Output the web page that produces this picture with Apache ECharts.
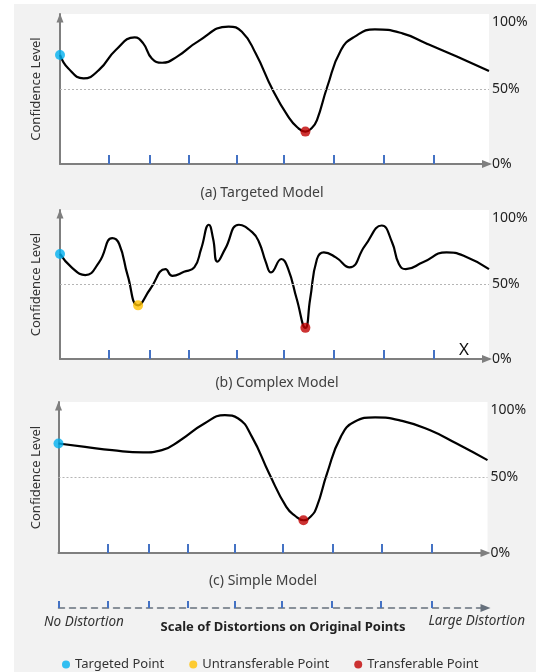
<!DOCTYPE html>
<html><head><meta charset="utf-8">
<script src="https://cdn.jsdelivr.net/npm/echarts@6/dist/echarts.min.js"></script>
<style>html,body{margin:0;padding:0;background:#fff}#c{width:536px;height:672px}</style>
</head><body><div id="c"></div>
<script>
// ---------------- data ----------------
const tickPositions = [11.4, 21.0, 30.1, 41.1, 52.2, 63.9, 75.4, 87.1];
const scaleTickPositions = [0, 11.4, 21.0, 30.1, 41.1, 52.2, 63.9, 75.4, 87.1];
const yTickValues = [0, 50, 100];
const yTickLabels = ['0%', '50%', '100%'];
const thresholdLevel = 50;
const legendNames = ['Targeted Point', 'Untransferable Point', 'Transferable Point'];
const captions = ['(a) Targeted Model', '(b) Complex Model', '(c) Simple Model'];

// (a) Targeted model
const targetedX = [0, 1.9, 5.5, 9.1, 13.0, 17.4, 19.4, 21.4, 23.8, 27.3, 32.1, 39.3, 42.4, 45.6, 49.6, 53.2, 55.3, 57.2, 58.7, 59.9, 62.3, 65.5, 68.7, 73.4, 79.8, 85.4, 92.5, 100];
const targetedY = [72.7, 63.8, 57.1, 62.7, 76, 84.4, 80.4, 70.4, 67.5, 71.6, 81.6, 91.6, 88.2, 73.8, 49.3, 31.6, 24.5, 21.6, 24.0, 29.3, 51.5, 76, 84.9, 89.8, 87.1, 80.4, 71.6, 62];
const targetedPointA = [0, 72.7];
const transferablePointA = [57.2, 21.6];

// (b) Complex model
const complexX = [0, 2.7, 5.9, 9.1, 12.2, 13.8, 15.8, 18.2, 21.0, 24.6, 26.2, 28.9, 31.3, 32.9, 34.7, 35.7, 36.7, 38.5, 41.7, 44.8, 46.4, 48.0, 49.2, 51.6, 53.2, 55.2, 57.2, 58.3, 59.9, 61.5, 64.3, 67.5, 71.1, 75.0, 77.4, 79.0, 80.6, 84.6, 90.1, 94.1, 100];
const complexY = [70.5, 61.5, 56.3, 64.9, 81.1, 77.2, 55.8, 36.0, 46.8, 60.3, 55.8, 58.5, 61.5, 73.9, 90.1, 80.6, 65.3, 73.9, 90.1, 85.1, 78.4, 64.9, 58.1, 67.1, 60.3, 40.1, 20.9, 40.1, 67.1, 71.6, 68.2, 61.5, 76.1, 89.6, 78.4, 63.7, 60.3, 64.9, 71.6, 69.3, 60.3];
const targetedPointB = [0, 70.5];
const untransferablePointB = [18.2, 36.0];
const transferablePointB = [57.2, 20.9];

// (c) Simple model
const simpleX = [0, 6.2, 12.5, 19.7, 24.1, 28.4, 34.0, 38.8, 41.9, 45.1, 49.1, 53.1, 55.2, 57.1, 58.8, 60.2, 62.6, 65.8, 69.0, 73.8, 80.1, 86.5, 92.8, 100];
const simpleY = [72.5, 70.3, 68.1, 66.6, 68.1, 74.7, 85.8, 91.3, 89.1, 76.9, 52.7, 30.5, 24.5, 21.7, 24.2, 30.5, 52.7, 76.9, 86.9, 89.8, 87.5, 81.4, 72.5, 61.5];
const targetedPointC = [0, 72.5];
const transferablePointC = [57.1, 21.7];

// ---------------- styles ----------------
const FONT = '"Noto Sans", "Open Sans", sans-serif';
const AXIS_GRAY = '#7f7f7f';
const TICK_BLUE = '#4472c4';
const C_TARGET = '#00b0f0', C_UNTRANS = '#ffc000', C_TRANS = '#c00000';

const zip = (xs, ys) => xs.map((x, i) => [x, ys[i]]);

const grids = [
  {left: 60, top: 14, width: 429, height: 150},
  {left: 60, top: 210, width: 429, height: 149},
  {left: 58.5, top: 402, width: 429, height: 151},
];
const nameGaps = [17, 17, 15.5];

const option = {
  animation: false,
  backgroundColor: '#f2f2f2',
  grid: grids.map(g => Object.assign({show: true, backgroundColor: '#ffffff', borderWidth: 0}, g))
    .concat([{left: 58.5, top: 598, width: 428, height: 10, show: false}]),
  xAxis: [0, 1, 2].map(i => ({
    type: 'value', gridIndex: i, min: 0, max: 100, position: 'bottom',
    axisLine: {show: true, onZero: false, lineStyle: {color: AXIS_GRAY, width: 2},
      symbol: ['none', 'triangle'], symbolSize: [8, 10], symbolOffset: [0, -2]},
    axisTick: {show: true, inside: true, length: 9, customValues: tickPositions,
      lineStyle: {color: TICK_BLUE, width: 2}},
    axisLabel: {show: false}, splitLine: {show: false}
  })).concat([{
    type: 'value', gridIndex: 3, min: 0, max: 100, position: 'bottom',
    axisLine: {show: true, onZero: false, lineStyle: {color: '#66707c', width: 1.5, type: [6, 5]},
      symbol: ['none', 'triangle'], symbolSize: [8, 10], symbolOffset: [0, -1]},
    axisTick: {show: true, inside: true, length: 7, customValues: scaleTickPositions,
      lineStyle: {color: TICK_BLUE, width: 2, type: 'solid'}},
    axisLabel: {show: false}, splitLine: {show: false}
  }]),
  yAxis: [],
  series: [],
  legend: {
    data: legendNames, left: 57, top: 653, icon: 'circle', itemWidth: 8, itemHeight: 8, itemGap: 25,
    selectedMode: false, textStyle: {fontSize: 13, color: '#333', fontFamily: FONT}
  },
  graphic: {elements: [
    {type: 'rect', shape: {x: 0, y: 0, width: 14, height: 672}, style: {fill: '#fff'}, silent: true},
    {type: 'rect', shape: {x: 0, y: 0, width: 536, height: 4}, style: {fill: '#fff'}, silent: true},
    {type: 'text', x: 262, y: 193, style: {text: captions[0], font: '14px ' + FONT, fill: '#404040', textAlign: 'center', textVerticalAlign: 'middle'}},
    {type: 'text', x: 277, y: 383, style: {text: captions[1], font: '14px ' + FONT, fill: '#404040', textAlign: 'center', textVerticalAlign: 'middle'}},
    {type: 'text', x: 263, y: 581, style: {text: captions[2], font: '14px ' + FONT, fill: '#404040', textAlign: 'center', textVerticalAlign: 'middle'}},
    {type: 'text', x: 464, y: 350, style: {text: 'X', font: '17px ' + FONT, fill: '#111', textAlign: 'center', textVerticalAlign: 'middle'}},
    {type: 'text', x: 44, y: 622, style: {text: 'No Distortion', font: 'italic 13.5px ' + FONT, fill: '#333', textAlign: 'left', textVerticalAlign: 'middle'}},
    {type: 'text', x: 283, y: 627, style: {text: 'Scale of Distortions on Original Points', font: 'bold 13px ' + FONT, fill: '#222', textAlign: 'center', textVerticalAlign: 'middle'}},
    {type: 'text', x: 525, y: 621, style: {text: 'Large Distortion', font: 'italic 13.5px ' + FONT, fill: '#333', textAlign: 'right', textVerticalAlign: 'middle'}},
  ]}
};

[0, 1, 2].forEach(i => {
  option.yAxis.push({
    type: 'value', gridIndex: i, position: 'left', min: 0, max: 100,
    name: 'Confidence Level', nameLocation: 'middle', nameGap: nameGaps[i],
    nameTextStyle: {fontSize: 13, color: '#333', fontFamily: FONT},
    axisLine: {show: true, onZero: false, lineStyle: {color: AXIS_GRAY, width: 2},
      symbol: ['none', 'triangle'], symbolSize: [7, 9], symbolOffset: [0, -4]},
    axisTick: {show: false}, axisLabel: {show: false}, splitLine: {show: false}
  });
  option.yAxis.push({
    type: 'value', gridIndex: i, position: 'right', min: 0, max: 100, interval: 50,
    axisLine: {show: false}, axisTick: {show: false}, splitLine: {show: false},
    axisLabel: {
      show: true, margin: 3, fontSize: 14, color: '#222', fontFamily: FONT,
      formatter: v => {
        const t = yTickLabels[yTickValues.indexOf(v)];
        return v === 100 ? '{top|' + t + '}' : t;
      },
      rich: {top: {padding: [16, 0, 0, 0], fontSize: 14, color: '#222', fontFamily: FONT}}
    }
  });
});
option.yAxis.push({type: 'value', gridIndex: 3, show: false, min: 0, max: 1});

const curves = [[targetedX, targetedY], [complexX, complexY], [simpleX, simpleY]];
curves.forEach(([xs, ys], i) => {
  option.series.push({
    type: 'line', xAxisIndex: i, yAxisIndex: i * 2, data: zip(xs, ys),
    smooth: 0.5, showSymbol: false, silent: true,
    lineStyle: {color: '#000', width: 2.2}, z: 3,
    markLine: {silent: true, symbol: ['none', 'none'], label: {show: false},
      lineStyle: {color: '#b5b5b5', type: [2, 2], width: 1}, data: [{yAxis: thresholdLevel}]}
  });
});

const markers = [
  {name: legendNames[0], grid: 0, pt: targetedPointA, color: C_TARGET},
  {name: legendNames[2], grid: 0, pt: transferablePointA, color: C_TRANS},
  {name: legendNames[0], grid: 1, pt: targetedPointB, color: C_TARGET},
  {name: legendNames[1], grid: 1, pt: untransferablePointB, color: C_UNTRANS},
  {name: legendNames[2], grid: 1, pt: transferablePointB, color: C_TRANS},
  {name: legendNames[0], grid: 2, pt: targetedPointC, color: C_TARGET},
  {name: legendNames[2], grid: 2, pt: transferablePointC, color: C_TRANS},
];
markers.forEach(m => {
  option.series.push({
    type: 'scatter', name: m.name, xAxisIndex: m.grid, yAxisIndex: m.grid * 2,
    data: [m.pt], symbolSize: 10, clip: false, z: 5, itemStyle: {color: m.color}
  });
});

const chart = echarts.init(document.getElementById('c'), null, {renderer: 'canvas'});
chart.setOption(option);
</script>
</body></html>
